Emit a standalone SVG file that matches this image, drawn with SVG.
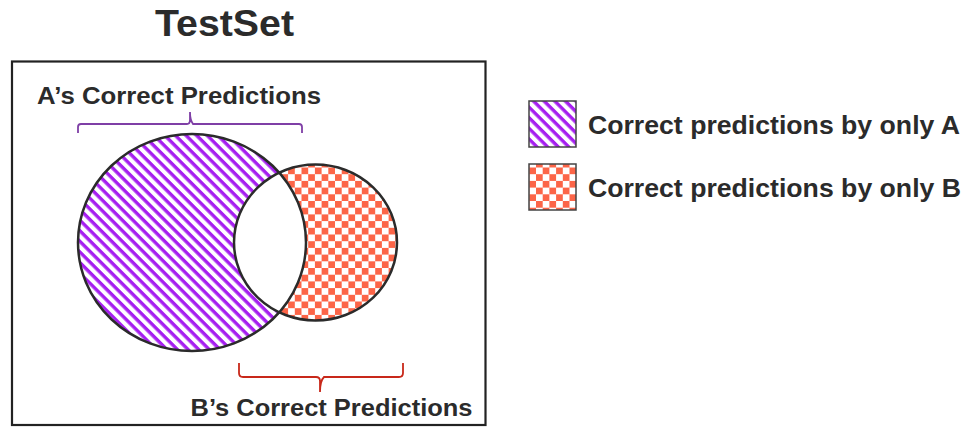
<svg xmlns="http://www.w3.org/2000/svg" width="973" height="437" viewBox="0 0 973 437">
<style>
.t{font-family:"Liberation Sans",Arial,Helvetica,sans-serif;font-weight:bold;fill:#2b2b2b}
.outline{fill:none;stroke:#2b2b2b;stroke-width:2.5}
.sq{stroke:#444;stroke-width:1.5}
</style>
<defs>
<pattern id="stripes" patternUnits="userSpaceOnUse" width="7.5" height="7.5" patternTransform="rotate(45)">
<rect width="7.5" height="7.5" fill="#fff"/>
<rect y="0" width="7.5" height="3.4" fill="#a61ff0"/>
</pattern>
<pattern id="checker" patternUnits="userSpaceOnUse" width="13.4" height="13.4">
<rect width="13.4" height="13.4" fill="#fff"/>
<rect x="0" y="0" width="6.7" height="6.7" fill="#fc6548"/>
<rect x="6.7" y="6.7" width="6.7" height="6.7" fill="#fc6548"/>
</pattern>
<clipPath id="clipA"><ellipse cx="192" cy="242.5" rx="114" ry="108.5"/></clipPath>
</defs>
<rect x="0" y="0" width="973" height="437" fill="#fff"/>
<text class="t" x="224.5" y="36" font-size="36" text-anchor="middle" textLength="139" lengthAdjust="spacingAndGlyphs">TestSet</text>
<g id="testset-box"><rect x="12" y="61.5" width="473.5" height="363.5" fill="none" stroke="#222" stroke-width="2.2"/></g>
<g id="circle-A"><ellipse cx="192" cy="242.5" rx="114" ry="108.5" fill="url(#stripes)"/></g>
<g id="circle-B">
<ellipse cx="315.5" cy="242.5" rx="81.5" ry="78" fill="url(#checker)"/>
<ellipse cx="315.5" cy="242.5" rx="81.5" ry="78" fill="#fff" clip-path="url(#clipA)"/>
</g>
<g id="outlines">
<ellipse class="outline" cx="192" cy="242.5" rx="114" ry="108.5"/>
<ellipse class="outline" cx="315.5" cy="242.5" rx="81.5" ry="78"/>
</g>
<g id="label-A">
<text class="t" x="37" y="103.5" font-size="23" textLength="284" lengthAdjust="spacingAndGlyphs">A’s Correct Predictions</text>
<path d="M78,133 V127 Q78,124 81,124 H187 Q190,124 190,120 V112 Q190,120 193,124 H299 Q302,124 302,127 V133" fill="none" stroke="#7f3fa6" stroke-width="1.8"/>
</g>
<g id="label-B">
<path d="M239,363 V373 Q239,377 243,377 H316 Q320,377 320,381 V392 Q320,381 324,377 H399 Q403,377 403,373 V363" fill="none" stroke="#c8281a" stroke-width="1.8"/>
<text class="t" x="190.5" y="415.5" font-size="23" textLength="282" lengthAdjust="spacingAndGlyphs">B’s Correct Predictions</text>
</g>
<g id="legend-A">
<rect class="sq" x="529" y="101" width="47" height="46" fill="url(#stripes)"/>
<text class="t" x="588" y="133.5" font-size="26" textLength="372" lengthAdjust="spacingAndGlyphs">Correct predictions by only A</text>
</g>
<g id="legend-B">
<rect class="sq" x="529" y="164" width="47" height="46" fill="url(#checker)"/>
<text class="t" x="588" y="196.5" font-size="26" textLength="373" lengthAdjust="spacingAndGlyphs">Correct predictions by only B</text>
</g>
</svg>
